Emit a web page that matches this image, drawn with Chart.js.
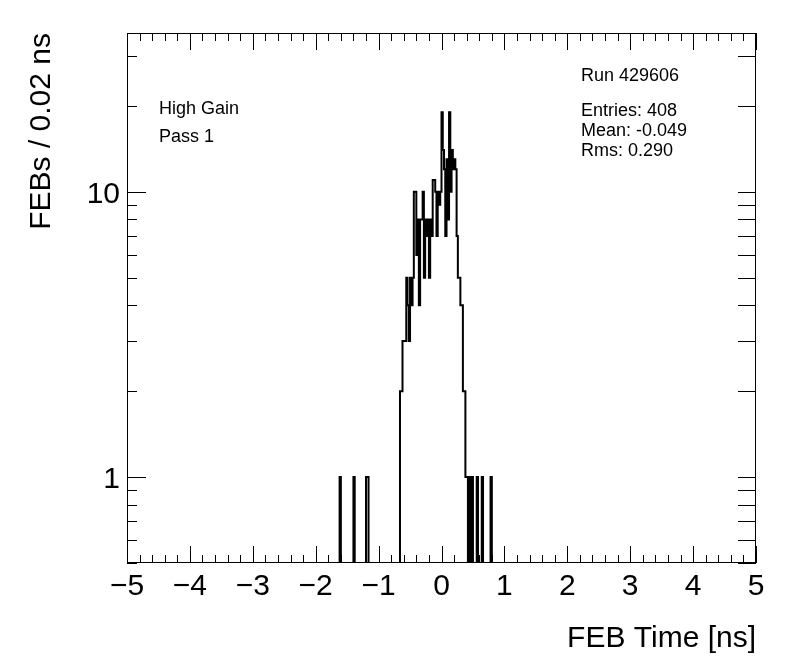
<!DOCTYPE html>
<html>
<head>
<meta charset="utf-8">
<script src="https://cdn.jsdelivr.net/npm/chart.js@4.4.0/dist/chart.umd.min.js"></script>
<style>
  html, body { margin: 0; padding: 0; background: #fff; }
  #wrap { width: 796px; height: 672px; }
</style>
</head>
<body>
<div id="wrap"><canvas id="c" width="796" height="672"></canvas></div>
<script>
// ==================== DATOS ====================

// bordes inferiores (ns) de los bins no vacíos, y su contenido
const binLow = [
  -1.60, -1.38, -1.18, -1.16,
  -0.64, -0.62, -0.60, -0.58, -0.56, -0.54, -0.52, -0.50, -0.48, -0.46,
  -0.44, -0.42, -0.40, -0.38, -0.36, -0.34, -0.32, -0.30, -0.28, -0.26,
  -0.24, -0.22, -0.20, -0.18, -0.16, -0.14, -0.12, -0.10, -0.08, -0.06,
  -0.04, -0.02, 0.00, 0.02, 0.04, 0.06, 0.08, 0.10, 0.12, 0.14,
  0.16, 0.18, 0.20, 0.22, 0.24, 0.26, 0.28, 0.30, 0.32, 0.34,
  0.36, 0.38, 0.40, 0.42, 0.46, 0.50, 0.58, 0.66, 0.80,
];
const counts = [
  1, 1, 1, 1,
  2, 2, 3, 3, 3, 5, 4, 3, 5, 4,
  5, 10, 10, 6, 8, 4, 8, 8, 10, 5,
  8, 7, 8, 5, 8, 7, 11, 11, 10, 7,
  10, 9, 10, 19, 14, 12, 7, 13, 8, 19,
  10, 14, 12, 13, 12, 7, 5, 5, 4, 4,
  2, 2, 1, 1, 1, 1, 1, 1, 1,
];

const xTicks = [-5, -4, -3, -2, -1, 0, 1, 2, 3, 4, 5];
const yTicks = [1, 10];
const runLabel = "Run 429606";
const statLines = ["Entries: 408", "Mean: -0.049", "Rms: 0.290"];
const infoLines = ["High Gain", "Pass 1"];
const xTitle = "FEB Time [ns]";
const yTitle = "FEBs / 0.02 ns";

// ==================== HISTOGRAMA ====================

const xLo = -5, xHi = 5, binW = 0.02;
const nBins = Math.round((xHi - xLo) / binW);
const content = new Array(nBins).fill(0);
binLow.forEach((lo, i) => {
  content[Math.round((lo - xLo) / binW)] = counts[i];
});
// bins vacíos: por debajo del marco (escala log), como en ROOT
const points = content.map((c, i) => ({ x: xLo + i * binW, y: c > 0 ? c : 0.01 }));
points.push({ x: xHi, y: points[nBins - 1].y });

const FONT = "'Liberation Sans', Arial, Helvetica, sans-serif";
const minus = (v) => (v < 0 ? "\u2212" + Math.abs(v) : String(v));

// marco, marcas y textos al estilo ROOT
const rootFrame = {
  id: "rootFrame",
  afterDraw(chart) {
    const { ctx, chartArea: a, scales } = chart;
    const xs = scales.x, ys = scales.y;
    ctx.save();
    ctx.strokeStyle = "#000";
    ctx.lineWidth = 1;
    ctx.strokeRect(a.left + 0.5, a.top + 0.5, a.right - a.left - 1, a.bottom - a.top - 1);

    ctx.beginPath();
    // eje x: principales cada 1, secundarias cada 0.2
    for (let i = -25; i <= 25; i++) {
      const px = Math.round(xs.getPixelForValue(i / 5)) + 0.5;
      const len = i % 5 === 0 ? 17 : 8;
      ctx.moveTo(px, a.bottom); ctx.lineTo(px, a.bottom - len);
      ctx.moveTo(px, a.top); ctx.lineTo(px, a.top + len);
    }
    // eje y logarítmico
    [0.1, 1, 10].forEach((d) => {
      for (let m = 1; m <= 9; m++) {
        const v = m * d;
        if (v < ys.min || v > ys.max) continue;
        const py = Math.round(ys.getPixelForValue(v)) + 0.5;
        ctx.moveTo(a.left, py); ctx.lineTo(a.left + (m === 1 ? 19 : 10), py);
        ctx.moveTo(a.right, py); ctx.lineTo(a.right - 18, py);
      }
    });
    ctx.stroke();

    ctx.fillStyle = "#000";
    ctx.font = "30px " + FONT;
    ctx.textAlign = "center";
    ctx.textBaseline = "alphabetic";
    xTicks.forEach((v) => ctx.fillText(minus(v), xs.getPixelForValue(v), a.bottom + 32));
    ctx.textAlign = "right";
    yTicks.forEach((v) => ctx.fillText(String(v), 120, ys.getPixelForValue(v) + 11));

    ctx.fillText(xTitle, a.right, 647);
    ctx.save();
    ctx.translate(50, a.top);
    ctx.rotate(-Math.PI / 2);
    ctx.textAlign = "right";
    ctx.fillText(yTitle, 0, 0);
    ctx.restore();

    ctx.font = "18px " + FONT;
    ctx.textAlign = "left";
    ctx.fillText(runLabel, 581, 81);
    statLines.forEach((t, i) => ctx.fillText(t, 581, 116 + i * 20));
    infoLines.forEach((t, i) => ctx.fillText(t, 159, 114 + i * 28));
    ctx.restore();
  },
};

new Chart(document.getElementById("c").getContext("2d"), {
  type: "line",
  data: {
    datasets: [
      {
        data: points,
        stepped: "after",
        borderColor: "#000",
        borderWidth: 2,
        borderJoinStyle: "miter",
        pointRadius: 0,
        fill: false,
      },
    ],
  },
  options: {
    responsive: false,
    animation: false,
    layout: { padding: { left: 127, top: 33, right: 40, bottom: 109 } },
    plugins: { legend: { display: false }, tooltip: { enabled: false } },
    scales: {
      x: { type: "linear", min: xLo, max: xHi, display: false },
      y: { type: "logarithmic", min: 0.5, max: 36, display: false },
    },
  },
  plugins: [rootFrame],
});
</script>
</body>
</html>
